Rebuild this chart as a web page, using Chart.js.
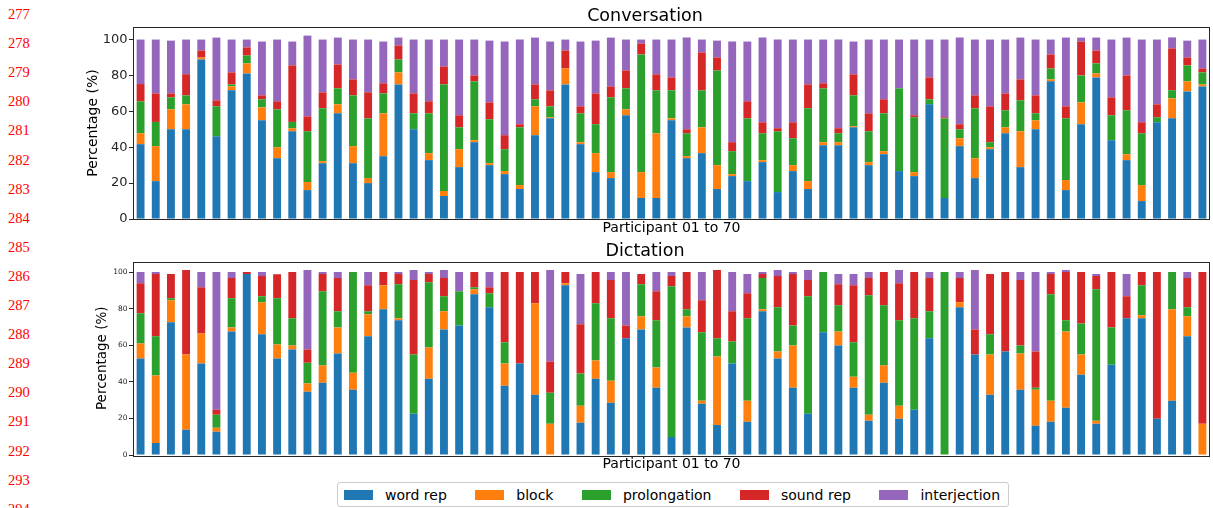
<!DOCTYPE html>
<html lang="en">
<head>
    <meta charset="UTF-8">
    <title>Conversation / Dictation</title>
    <script src="https://cdn.jsdelivr.net/npm/chart.js"></script>
    <style>
        body { margin: 0; background: #ffffff; width: 1213px; height: 508px; overflow: hidden; position: relative; font-family: 'DejaVu Sans', sans-serif; }
        .box { position: absolute; left: 0; width: 1213px; }
        .lineno { position: absolute; left: 8px; font-family: 'Liberation Serif', serif; font-size: 14.5px; color: #ff0000; line-height: 16px; }
        #legend { position: absolute; left: 337px; top: 482px; width: 664px; height: 23px; border: 1px solid #cccccc; border-radius: 3px; display: flex; align-items: center; padding-left: 6px; box-sizing: content-box; white-space: nowrap; }
        .item { display: flex; align-items: center; flex-shrink: 0; margin-right: 28.5px; font-size: 14px; color: #000; white-space: nowrap; }
        .patch { width: 29px; height: 10px; margin-right: 12px; flex-shrink: 0; }
    </style>
</head>
<body>
    <div id="lines"></div>
    <div class="box" style="top:0; height:240px;"><canvas id="conv"></canvas></div>
    <div class="box" style="top:240px; height:236px;"><canvas id="dict"></canvas></div>
    <div id="legend"></div>

    <script>
        // series names and colours
        const series = ['word rep', 'block', 'prolongation', 'sound rep', 'interjection'];
        const colors = ['#1f77b4', '#ff7f0e', '#2ca02c', '#d62728', '#9467bd'];
        const participants = Array.from({ length: 71 }, (_, i) => 'P' + String(i).padStart(2, '0'));
        const yTicks = [0, 20, 40, 60, 80, 100];
        const lineNumbers = [277, 278, 279, 280, 281, 282, 283, 284, 285, 286, 287, 288, 289, 290, 291, 292, 293, 294];

        // Conversation (%)
        const convWordRep = [41.7, 21.1, 50.0, 50.0, 88.9, 46.1, 71.7, 81.1, 55.0, 33.9, 48.9, 16.1, 31.1, 58.9, 31.1, 20.0, 35.0, 75.0,
            50.0, 32.8, 12.8, 28.9, 42.8, 30.0, 25.0, 16.7, 46.7, 56.1, 75.0, 41.7, 26.1, 22.8, 57.8, 11.7, 11.7, 55.0,
            33.9, 36.7, 16.7, 23.9, 21.1, 31.7, 15.0, 26.7, 16.7, 41.1, 41.1, 51.1, 30.0, 36.1, 26.7, 23.9, 63.9, 11.7,
            40.6, 22.8, 38.9, 47.8, 28.9, 50.0, 76.7, 16.1, 52.8, 78.9, 43.9, 32.8, 10.0, 53.9, 56.1, 71.1, 73.9];
        const convBlock = [6.1, 19.5, 11.1, 13.9, 1.1, 0, 2.2, 5.6, 7.2, 6.1, 1.7, 4.5, 1.1, 5.0, 9.5, 2.8, 23.9, 6.7,
            0, 3.9, 2.8, 10.0, 1.1, 1.1, 1.7, 2.2, 16.1, 0.6, 8.9, 1.1, 10.6, 3.3, 3.3, 14.4, 36.1, 1.1,
            1.1, 14.4, 13.3, 1.1, 0, 1.1, 0, 3.3, 4.4, 1.7, 1.7, 0.6, 1.7, 1.7, 0, 2.2, 0, 0,
            4.4, 11.1, 1.1, 3.3, 20.0, 5.0, 1.1, 5.6, 12.2, 2.2, 0, 3.3, 8.9, 0, 11.1, 5.6, 1.1];
        const convProlongation = [17.8, 13.5, 6.7, 5.0, 0, 16.7, 1.1, 4.4, 4.5, 21.1, 3.5, 28.3, 29.5, 8.9, 28.3, 33.3, 11.1, 7.2,
            8.9, 22.2, 59.4, 12.2, 32.8, 24.5, 12.2, 32.2, 3.9, 6.1, 0, 16.1, 16.1, 41.7, 11.7, 65.6, 23.9, 15.6,
            12.8, 20.6, 52.8, 12.8, 35.0, 15.0, 33.9, 15.0, 40.6, 30.0, 5.0, 17.2, 17.2, 21.1, 46.1, 30.6, 2.8, 44.4,
            5.0, 27.8, 2.8, 9.5, 17.2, 3.9, 6.1, 34.4, 15.0, 5.6, 13.9, 24.5, 28.9, 2.8, 4.6, 8.9, 6.7];
        const convSoundRep = [9.6, 15.9, 2.2, 11.8, 3.9, 3.3, 6.7, 4.5, 2.2, 4.5, 31.5, 8.3, 8.9, 13.3, 8.9, 14.5, 5.6, 7.8,
            11.1, 6.7, 10.0, 6.7, 3.3, 9.4, 7.8, 1.7, 8.3, 8.9, 10.0, 3.9, 17.2, 6.1, 10.0, 6.1, 8.9, 7.2,
            2.2, 21.1, 7.2, 5.0, 9.5, 6.1, 1.7, 8.9, 13.3, 2.8, 2.8, 11.7, 10.0, 7.8, 0, 1.1, 12.2, 0.6,
            2.8, 7.2, 20.0, 9.4, 11.7, 10.0, 7.8, 6.7, 18.9, 7.2, 10.0, 19.4, 6.1, 7.2, 23.3, 4.4, 2.2];
        const convInterjection = [24.8, 30.0, 29.4, 19.3, 6.1, 35.0, 18.3, 4.4, 30.0, 34.4, 13.3, 45.0, 29.4, 15.0, 22.2, 29.4, 23.3, 4.4,
            30.0, 34.4, 15.0, 42.2, 20.0, 34.4, 52.2, 47.2, 26.1, 27.2, 6.1, 36.1, 29.4, 27.2, 17.2, 2.2, 19.4, 21.1,
            51.1, 7.2, 9.4, 56.1, 33.3, 47.2, 49.4, 46.1, 25.0, 24.4, 49.4, 18.3, 41.1, 33.3, 27.2, 42.2, 21.1, 43.3,
            48.3, 31.1, 37.2, 30.0, 23.3, 31.1, 8.3, 38.3, 2.2, 7.2, 32.2, 21.1, 46.1, 36.1, 6.1, 9.4, 16.1];

        // Dictation (%)
        const dictWordRep = [52.8, 6.6, 72.7, 13.8, 50.1, 12.7, 67.7, 99.1, 66.1, 52.8, 57.8, 34.7, 39.6, 55.6, 35.8, 65.0, 79.8, 73.8,
            22.6, 41.8, 68.8, 71.0, 88.1, 80.9, 38.0, 50.1, 33.0, 0, 93.0, 17.6, 41.8, 28.6, 63.9, 68.8, 36.9, 9.9,
            69.9, 28.1, 16.5, 50.1, 18.2, 78.7, 52.8, 36.9, 22.6, 67.2, 60.0, 36.9, 18.7, 39.6, 19.8, 24.8, 63.9, 0,
            80.9, 55.0, 33.0, 56.7, 35.8, 16.0, 18.2, 25.9, 44.0, 17.1, 49.5, 74.9, 74.9, 19.8, 29.7, 65.0, 0];
        const dictBlock = [8.3, 36.9, 12.1, 41.2, 16.5, 2.2, 2.2, 0, 17.6, 7.7, 2.2, 4.4, 9.4, 14.3, 9.3, 12.1, 13.2, 1.1,
            0, 17.1, 9.9, 0, 2.7, 0, 12.1, 0, 50.1, 17.1, 1.1, 9.4, 9.9, 12.1, 0, 7.2, 11.0, 0,
            6.1, 1.6, 37.4, 0, 11.5, 1.1, 3.9, 23.1, 0, 0, 7.7, 6.0, 3.3, 9.4, 7.2, 0, 0, 0,
            2.8, 0, 22.0, 0, 19.8, 19.8, 11.5, 41.8, 11.0, 1.6, 0, 0, 1.6, 0, 50.1, 11.0, 17.1];
        const dictProlongation = [16.5, 21.5, 1.1, 0, 0, 7.1, 16.0, 0, 3.3, 25.3, 14.9, 11.5, 40.7, 8.8, 55.1, 1.6, 0, 18.7,
            32.4, 35.8, 8.3, 18.7, 1.1, 7.7, 11.6, 0, 0, 17.0, 0, 17.6, 31.4, 34.2, 0, 17.6, 25.9, 82.6,
            3.8, 37.5, 10.0, 12.1, 45.2, 17.1, 24.2, 11.0, 64.4, 33.0, 14.3, 18.8, 65.5, 33.0, 46.8, 50.1, 14.8, 100.2,
            0, 0, 11.1, 0, 4.4, 1.1, 58.4, 6.1, 17.1, 72.1, 20.4, 0, 16.5, 0, 20.4, 4.9, 0];
        const dictSoundRep = [16.5, 34.1, 13.2, 46.3, 25.3, 2.8, 11.0, 1.1, 11.0, 13.2, 25.3, 7.2, 9.4, 18.2, 0, 14.3, 7.2, 5.5,
            40.8, 4.4, 9.9, 0, 8.3, 3.3, 38.5, 50.1, 17.1, 17.1, 6.1, 27.0, 17.1, 20.9, 7.1, 5.5, 15.9, 5.5,
            20.4, 17.6, 37.4, 16.5, 13.7, 2.2, 17.1, 28.1, 8.8, 0, 11.6, 31.3, 9.4, 18.2, 20.3, 25.3, 18.2, 0,
            13.2, 13.8, 33.0, 43.5, 35.8, 19.8, 11.0, 26.4, 28.1, 7.2, 30.3, 12.1, 7.2, 80.4, 0, 16.0, 83.1];
        const dictInterjection = [6.1, 1.1, 0, 0, 8.3, 75.4, 3.3, 0, 2.2, 0, 0, 43.5, 1.1, 3.3, 0, 7.2, 0, 1.1,
            5.5, 1.1, 4.4, 10.5, 0, 8.3, 0, 0, 0, 50.1, 0, 27.5, 0, 4.4, 29.2, 0, 10.5, 2.2,
            0, 15.4, 0, 21.5, 10.5, 1.1, 3.3, 1.1, 5.5, 0, 5.5, 6.1, 3.3, 0, 7.2, 0, 3.3, 0,
            3.3, 32.5, 0, 0, 4.4, 43.5, 1.1, 1.1, 0, 1.1, 0, 12.1, 0, 0, 0, 3.3, 0];

        Chart.defaults.font.family = "'DejaVu Sans', sans-serif";
        Chart.defaults.color = '#000000';

        // matplotlib style frame round the plot area
        const framePlugin = {
            id: 'frame',
            afterDraw(chart) {
                const { ctx, chartArea: a } = chart;
                ctx.save();
                ctx.strokeStyle = '#262626';
                ctx.lineWidth = 1;
                ctx.strokeRect(Math.round(a.left) + 0.5, Math.round(a.top) + 0.5, Math.round(a.right - a.left) - 1, Math.round(a.bottom - a.top));
                ctx.restore();
            }
        };

        function makeChart(id, title, values, opts) {
            return new Chart(document.getElementById(id), {
                type: 'bar',
                data: {
                    labels: participants,
                    datasets: series.map((name, i) => ({
                        label: name,
                        data: values[i],
                        backgroundColor: colors[i],
                        borderWidth: 0,
                        barPercentage: 0.52,
                        categoryPercentage: 1.0
                    }))
                },
                options: {
                    responsive: true,
                    maintainAspectRatio: false,
                    animation: false,
                    layout: { padding: { left: 80, right: 3, top: 0, bottom: 3.6 } },
                    plugins: {
                        legend: { display: false },
                        tooltip: { enabled: false },
                        title: {
                            display: true,
                            text: title,
                            font: { size: 17.5, weight: 'normal' },
                            color: '#000',
                            padding: opts.titlePad
                        }
                    },
                    scales: {
                        x: {
                            stacked: true,
                            offset: true,
                            grid: { display: false },
                            border: { display: false },
                            ticks: { display: false },
                            title: { display: true, text: 'Participant 01 to 70', font: { size: 14 }, color: '#000', padding: 0 },
                            afterFit(scale) { scale.height = 17.4; }
                        },
                        y: {
                            stacked: true,
                            min: 0,
                            max: opts.yMax,
                            afterBuildTicks(scale) { scale.ticks = yTicks.map(v => ({ value: v })); },
                            grid: { drawOnChartArea: false, drawTicks: true, tickLength: 4, color: '#262626' },
                            border: { display: false },
                            ticks: { font: { size: opts.tickSize }, color: '#262626', padding: 1.5 },
                            title: { display: true, text: 'Percentage (%)', font: { size: opts.yTitleSize }, color: '#000', padding: { top: opts.yTitlePad, bottom: 0 } },
                            afterFit(scale) { scale.width = 53; }
                        }
                    }
                },
                plugins: [framePlugin]
            });
        }

        makeChart('conv', 'Conversation',
            [convWordRep, convBlock, convProlongation, convSoundRep, convInterjection],
            { yMax: 107, tickSize: 13, yTitleSize: 14, yTitlePad: 4.6, titlePad: { top: 6, bottom: 0 } });

        makeChart('dict', 'Dictation',
            [dictWordRep, dictBlock, dictProlongation, dictSoundRep, dictInterjection],
            { yMax: 106, tickSize: 7.5, yTitleSize: 13.5, yTitlePad: 14, titlePad: { top: 0.5, bottom: 0 } });

        // legend
        const legend = document.getElementById('legend');
        series.forEach((name, i) => {
            const item = document.createElement('div');
            item.className = 'item';
            item.innerHTML = `<span class="patch" style="background:${colors[i]}"></span><span>${name}</span>`;
            legend.appendChild(item);
        });

        // page line numbers in the margin
        const lines = document.getElementById('lines');
        lineNumbers.forEach((n, i) => {
            const d = document.createElement('div');
            d.className = 'lineno';
            d.style.top = (14 + i * 29.1 - 8) + 'px';
            d.textContent = n;
            lines.appendChild(d);
        });
    </script>
</body>
</html>
